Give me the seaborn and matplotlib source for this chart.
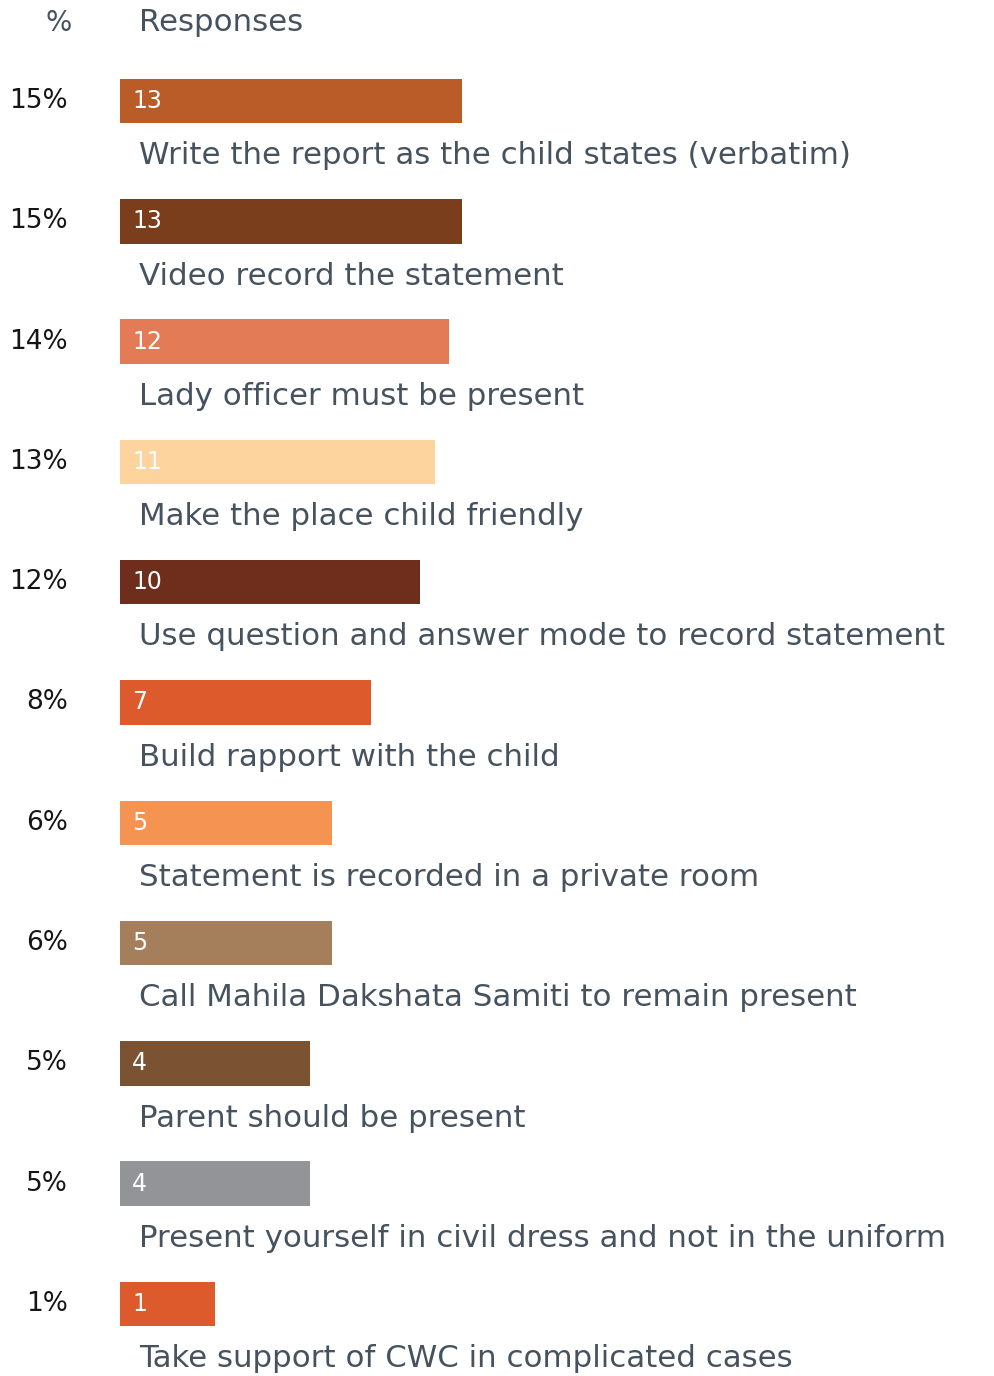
import numpy as np
import pandas as pd
import matplotlib
matplotlib.use("Agg")
import matplotlib.pyplot as plt
import matplotlib.transforms as mtransforms
import seaborn as sns

# Survey responses, in the order they are listed
responses = [
    "Write the report as the child states (verbatim)",
    "Video record the statement",
    "Lady officer must be present",
    "Make the place child friendly",
    "Use question and answer mode to record statement",
    "Build rapport with the child",
    "Statement is recorded in a private room",
    "Call Mahila Dakshata Samiti to remain present",
    "Parent should be present",
    "Present yourself in civil dress and not in the uniform",
    "Take support of CWC in complicated cases",
]
counts = [13, 13, 12, 11, 10, 7, 5, 5, 4, 4, 1]
percent_labels = ["15%", "15%", "14%", "13%", "12%", "8%", "6%", "6%", "5%", "5%", "1%"]
bar_colors = [
    "#B95C28", "#7A3E1C", "#E47B57", "#FDD49E", "#6E2E1B", "#DD5A2C",
    "#F59352", "#A57F5C", "#7B5332", "#939498", "#DD5A2C",
]

SLATE = "#46535F"
W, H = 995, 1376

sns.set_theme(style="white")
plt.rcParams["font.family"] = ["DejaVu Sans"]

fig = plt.figure(figsize=(W / 100, H / 100), dpi=100)
fig.patch.set_facecolor("white")

# axes: bars start at x=120 px, each row 120.3 px tall
row_h = 120.3
top_px = 101 - row_h / 2
ax_h = row_h * len(responses)
ax = fig.add_axes([120 / W, 1 - (top_px + ax_h) / H, (W - 120) / W, ax_h / H])

df = pd.DataFrame({"response": responses, "count": counts})
sns.barplot(
    data=df, x="count", y="response", hue="response", palette=bar_colors,
    legend=False, orient="h", width=0.37, saturation=1, linewidth=0, ax=ax,
)

# square-root length scale, spanning all responses collected
ax.set_xscale("function", functions=(lambda v: np.sqrt(np.clip(v, 0, None)),
                                     lambda u: np.square(u)))
ax.set_xlim(0, sum(counts))
ax.set_ylim(len(responses) - 0.5, -0.5)
ax.set_axis_off()

trans = mtransforms.blended_transform_factory(ax.transAxes, ax.transData)
px = lambda x: (x - 120) / (W - 120)

for i, (label, n, pct) in enumerate(zip(responses, counts, percent_labels)):
    ax.text(px(132), i, str(n), transform=trans, color="white", fontsize=17,
            ha="left", va="center")
    ax.text(px(139), i + 0.455, label, transform=trans, color=SLATE,
            fontsize=22.2, ha="left", va="center", clip_on=False)
    ax.text(px(68), i, pct, transform=trans, color="#151515", fontsize=19,
            ha="right", va="center", clip_on=False)

header_y = -0.5 - (top_px - 23) / row_h
ax.text(px(59), header_y, "%", transform=trans, color=SLATE, fontsize=20,
        ha="center", va="center", clip_on=False)
ax.text(px(139), header_y, "Responses", transform=trans, color=SLATE,
        fontsize=22.2, ha="left", va="center", clip_on=False)

fig.savefig("out.png", dpi=100, facecolor="white")
